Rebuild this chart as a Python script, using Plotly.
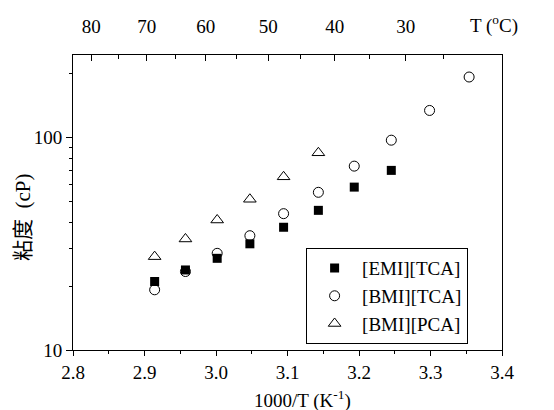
import plotly.graph_objects as go

# ---- data ----
T_C = [70, 65, 60, 55, 50, 45, 40, 35, 30, 25]
inv_T = [1000.0 / (t + 273.15) for t in T_C]

emi_tca = [21.0, 23.8, 27.0, 31.6, 37.8, 45.4, 58.4, 70.0]
bmi_tca = [19.2, 23.4, 28.5, 34.5, 43.8, 55.2, 73.3, 97.1, 134.0, 192.5]
bmi_pca = [27.5, 33.3, 40.9, 51.2, 65.3, 84.7]

series_names = ["[EMI][TCA]", "[BMI][TCA]", "[BMI][PCA]"]

# top axis (temperature) labels
top_major = [80, 70, 60, 50, 40, 30]
top_minor = [75, 65, 55, 45, 35, 25]
# the top scale in the original is a slightly compressed 1000/T scale
TOP_A, TOP_B = 0.942, 0.158


def top_pos(t):
    return TOP_A * 1000.0 / (t + 273.15) + TOP_B


SERIF = "Times New Roman, Liberation Serif, DejaVu Serif, serif"
CJK = "Noto Sans CJK SC"
FS = 19

fig = go.Figure()
fig.add_trace(go.Scatter(
    x=inv_T[:len(emi_tca)], y=emi_tca, mode="markers", name=series_names[0],
    marker=dict(symbol="square", size=9, color="black", line=dict(width=0))))
fig.add_trace(go.Scatter(
    x=inv_T[:len(bmi_tca)], y=bmi_tca, mode="markers", name=series_names[1],
    marker=dict(symbol="circle-open", size=10, color="black", line=dict(width=1))))
fig.add_trace(go.Scatter(
    x=inv_T[:len(bmi_pca)], y=bmi_pca, mode="markers", name=series_names[2],
    marker=dict(symbol="triangle-up-open", size=11, color="black", line=dict(width=1))))

# invisible trace to activate the top axis
fig.add_trace(go.Scatter(x=[2.8, 3.4], y=[10, 10], xaxis="x2", mode="markers",
                         marker=dict(opacity=0), showlegend=False, hoverinfo="skip"))

fig.update_layout(
    width=554, height=410,
    margin=dict(l=73, r=52, t=55, b=60),
    plot_bgcolor="white", paper_bgcolor="white",
    font=dict(family=SERIF, size=FS, color="black"),
    showlegend=True,
    legend=dict(x=0.921, y=0.345, xanchor="right", yanchor="top",
                bordercolor="black", borderwidth=1, bgcolor="white",
                font=dict(family=SERIF, size=FS), tracegroupgap=0,
                itemwidth=45),
    xaxis=dict(range=[2.8, 3.4], dtick=0.1, tick0=2.8, tickformat=".1f",
               showline=True, linecolor="black", linewidth=1, mirror=True,
               ticks="outside", ticklen=5, tickcolor="black", showgrid=False,
               zeroline=False, automargin=False,
               minor=dict(dtick=0.05, tick0=2.8, ticks="outside", ticklen=3,
                          tickcolor="black", showgrid=False),
               tickfont=dict(family=SERIF, size=FS)),
    xaxis2=dict(range=[2.8, 3.4], overlaying="x", side="top",
                tickmode="array", tickvals=[top_pos(t) for t in top_major],
                ticktext=[str(t) for t in top_major],
                ticks="inside", ticklen=6, tickcolor="black", showgrid=False,
                zeroline=False, showline=False, ticklabelstandoff=17, automargin=False,
                minor=dict(tickmode="array", tickvals=[top_pos(t) for t in top_minor],
                           ticks="inside", ticklen=4, tickcolor="black", showgrid=False),
                tickfont=dict(family=SERIF, size=FS)),
    yaxis=dict(type="log", range=[1, 2.388], tickmode="array", tickvals=[10, 100],
               ticktext=["10", "100"],
               showline=True, linecolor="black", linewidth=1, mirror=True,
               ticks="outside", ticklen=6, tickcolor="black", showgrid=False,
               zeroline=False, automargin=False,
               minor=dict(tickmode="array",
                          tickvals=[20, 30, 40, 50, 60, 70, 80, 90, 200],
                          ticks="outside", ticklen=3, tickcolor="black", showgrid=False),
               tickfont=dict(family=SERIF, size=FS)),
)

fig.add_annotation(
    text=f"<span style='font-family:{CJK}'>粘度</span>  (cP)",
    xref="paper", yref="paper", x=-0.121, y=0.451, textangle=-90,
    showarrow=False, font=dict(family=SERIF, size=21), xanchor="center", yanchor="middle")
fig.add_annotation(
    text="1000/T (K<sup>-1</sup>)", xref="paper", yref="paper", x=0.536, y=-0.169,
    showarrow=False, font=dict(family=SERIF, size=FS), xanchor="center", yanchor="middle")
fig.add_annotation(
    text="T (<sup>o</sup>C)", xref="paper", yref="paper", x=0.981, y=1.102,
    showarrow=False, font=dict(family=SERIF, size=FS), xanchor="center", yanchor="middle")

fig.write_html("out.html", config={"displayModeBar": False},
               post_script="document.body.style.margin='0';")
